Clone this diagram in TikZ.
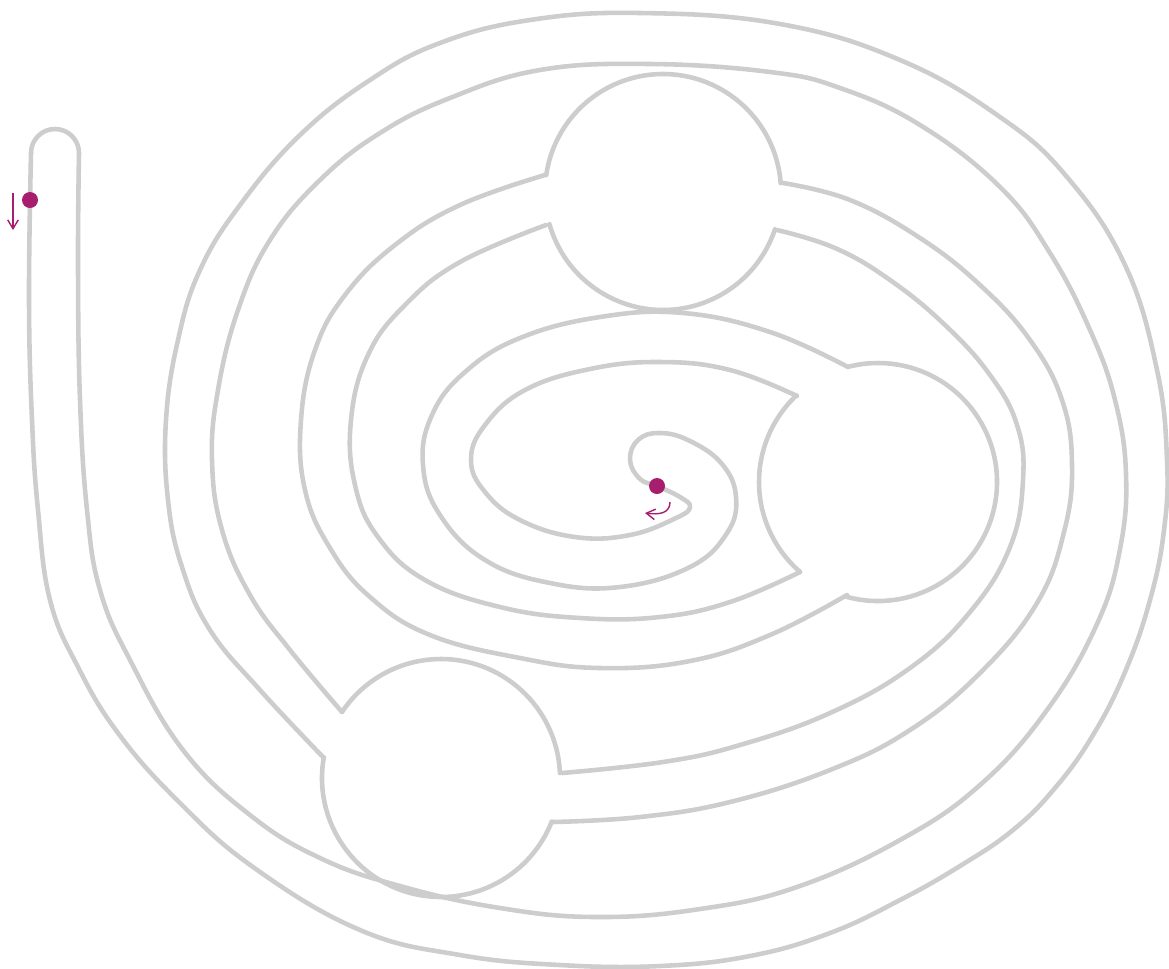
\documentclass[tikz,border=0pt]{standalone}
\usetikzlibrary{arrows.meta}
\definecolor{wallgray}{RGB}{205,205,205}
\definecolor{plum}{RGB}{168,30,110}

\begin{document}
\begin{tikzpicture}[x=0.02cm, y=-0.02cm,
		wall/.style={draw=wallgray, line width=2.6pt, line cap=round, line join=round},
		bend wall/.style={wall, smooth, tension=0.7},
		spot/.style={fill=plum},
		hint/.style={draw=plum, line width=0.8pt, -{Straight Barb[length=5pt, width=6pt]}}
		]
		\useasboundingbox (0,0) rectangle (1169,968);
		\coordinate (cap) at (55,153);
		\coordinate (top chamber) at (663,192);
		\coordinate (right chamber) at (878,482);
		\coordinate (low chamber) at (441,778);

		\draw [bend wall] plot coordinates {(31,153) (29,300) (32,420) (38,510) (50,600) (78,667) (118,733) (177,800) (253,867) (360,930) (460,955) (560,965) (660,966) (750,956) (830,933) (900,900) (960,866) (1013,830) (1055,788) (1093,735) (1125,672) (1150,600) (1164,530) (1167,460) (1157,370) (1125,265) (1067,177) (1000,117) (900,60) (780,24) (640,13) (530,20) (440,43) (370,80) (300,135) (240,205) (200,270) (178,340) (166,420) (168,500) (182,567) (210,630) (260,690) (323,757)};
		\draw [bend wall] plot coordinates {(79,153) (78,267) (80,400) (87,510) (100,590) (130,660) (183,750) (250,815) (320,858) (400,886) (500,908) (597,917) (700,909) (797,887) (900,840) (980,785) (1047,710) (1097,624) (1120,549) (1126,474) (1115,400) (1090,330) (1050,253) (1000,187) (920,125) (840,88) (770,72) (650,64) (540,70) (450,98) (380,133) (320,180) (270,240) (238,310) (218,390) (212,460) (222,530) (250,595) (290,650) (342,712)};
		\draw [bend wall] plot coordinates {(553,822) (640,817) (730,802) (830,770) (910,730) (980,673) (1037,603) (1064,532) (1072,465) (1062,400) (1030,340) (980,285) (920,238) (850,200) (783,183)};
		\draw [bend wall] plot coordinates {(562,773) (663,762) (740,745) (830,713) (910,668) (970,612) (1010,547) (1023,480) (1017,425) (990,375) (945,325) (890,280) (835,248) (777,230)};
		\draw [bend wall] plot coordinates {(545,175) (460,205) (395,245) (345,295) (315,350) (301,420) (305,490) (330,548) (370,597) (430,635) (520,658) (600,668) (690,661) (770,635) (847,595)};
		\draw [bend wall] plot coordinates {(546,225) (460,262) (405,305) (368,355) (351,420) (355,485) (378,537) (425,580) (500,607) (580,618) (660,617) (730,602) (800,572)};
		\draw [bend wall] plot coordinates {(848,367) (770,332) (683,313) (600,317) (520,338) (465,372) (432,415) (423,465) (440,515) (485,560) (550,583) (620,587) (690,567) (727,533) (736,497) (722,464) (690,441) (660,433) (638,440) (630,460) (640,479) (657,486) (680,497) (690,507) (676,518) (630,535) (575,537) (520,520) (485,492) (471,460) (485,425) (525,390) (590,369) (660,362) (730,370) (797,396)};

		\draw [wall] (cap) ++(0:24) arc [start angle=0, end angle=-180, radius=24];
		\draw [wall] (low chamber) ++(190.1:119) arc [start angle=190.1, end angle=21.4, radius=119];
		\draw [wall] (low chamber) ++(-2.4:119) arc [start angle=-2.4, end angle=-146.3, radius=119];
		\draw [wall] (top chamber) ++(-4.3:118) arc [start angle=-4.3, end angle=-171.8, radius=118];
		\draw [wall] (top chamber) ++(164.2:118) arc [start angle=164.2, end angle=18.4, radius=118];
		\draw [wall] (right chamber) ++(105.3:119) arc [start angle=105.3, end angle=-104.6, radius=119];
		\draw [wall] (right chamber) ++(226.7:119) arc [start angle=226.7, end angle=130.9, radius=119];

		\fill [spot] (30,200) circle [radius=8];
		\fill [spot] (657,486) circle [radius=8];
		\draw [hint] (13,193) -- (13,230);
		\draw [hint] (670,502) .. controls (670,513) and (660,515) .. (645,513);
	\end{tikzpicture}
\end{document}
